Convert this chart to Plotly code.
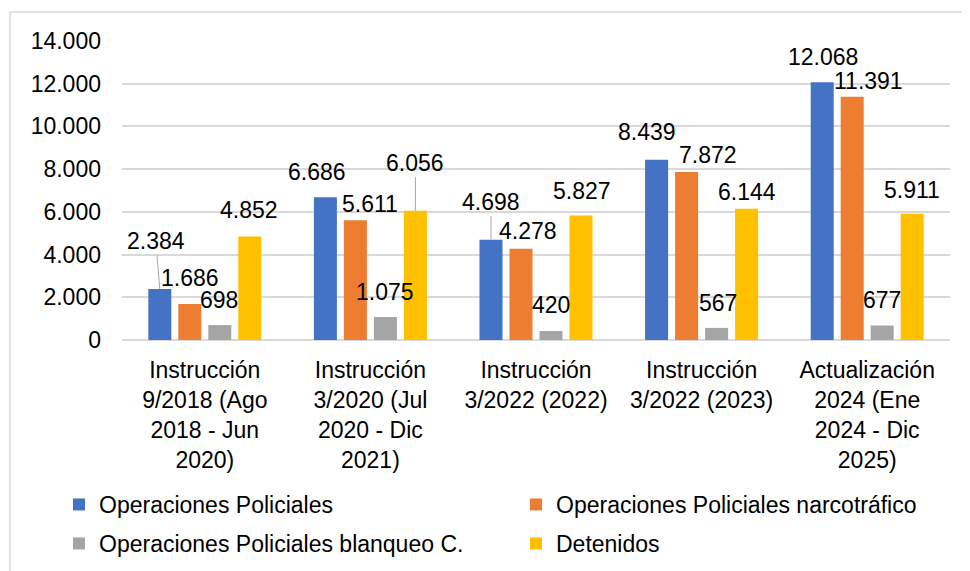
import plotly.graph_objects as go

# ---------------- data ----------------
categories = [
    "Instrucción<br>9/2018 (Ago<br>2018 - Jun<br>2020)",
    "Instrucción<br>3/2020 (Jul<br>2020 - Dic<br>2021)",
    "Instrucción<br>3/2022 (2022)",
    "Instrucción<br>3/2022 (2023)",
    "Actualización<br>2024 (Ene<br>2024 - Dic<br>2025)",
]
series_names = [
    "Operaciones Policiales",
    "Operaciones Policiales narcotráfico",
    "Operaciones Policiales blanqueo C.",
    "Detenidos",
]
op_policiales = [2384, 6686, 4698, 8439, 12068]
op_narcotrafico = [1686, 5611, 4278, 7872, 11391]
op_blanqueo = [698, 1075, 420, 567, 677]
detenidos = [4852, 6056, 5827, 6144, 5911]
y_tick_values = [0, 2000, 4000, 6000, 8000, 10000, 12000, 14000]

# ---------------- style ----------------
colors = ["#4472C4", "#ED7D31", "#A5A5A5", "#FFC000"]
FONT = "Arial, Liberation Sans, Helvetica, sans-serif"
FS = 23
GRID = "#D9D9D9"

# label offsets (px) relative to bar top-centre: (dx, height above)
label_dx = [
    [-4, -8, 0, -10, 1],
    [0, 15, 7, 21, 16],
    [-1, 0, 0, 1, 0],
    [-1, 0, 1, 0, 0],
]
label_dy = [
    [48, 25, 38, 28, 25.5],
    [26, 16, 17.5, 17, 16],
    [25, 25.5, 26, 24.5, 25.5],
    [26, 48, 25, 17, 24],
]
leader = [
    [True, False, True, False, False],
    [False] * 5,
    [False] * 5,
    [False, True, False, False, False],
]
bar_slot_px = 30
bar_offsets = [-1.5 * bar_slot_px, -0.5 * bar_slot_px, 0.5 * bar_slot_px, 1.5 * bar_slot_px]

# page body adds an 8px margin; figure coordinates are screen - 8
PAGE_OFF = 8
W, H = 962, 563
ML, MR, MT, MB = 114, 20, 33, 231
PW = W - ML - MR
PH = H - MT - MB

all_series = [op_policiales, op_narcotrafico, op_blanqueo, detenidos]
legend_rows = ["legend", "legend", "legend2", "legend2"]


def fmt(v):
    return f"{v:,}".replace(",", ".")


def px_x(sx):
    return (sx - PAGE_OFF - ML) / PW


def px_y(sy):
    return (H - MB - (sy - PAGE_OFF)) / PH


fig = go.Figure()
for name, vals, col, lg in zip(series_names, all_series, colors, legend_rows):
    fig.add_trace(go.Bar(
        x=categories, y=vals, name=name, legend=lg,
        marker=dict(color=col, line=dict(width=0)),
    ))

annotations = []
for s, vals in enumerate(all_series):
    for i, v in enumerate(vals):
        if leader[s][i]:
            annotations.append(dict(
                x=categories[i], y=v, xref="x", yref="y",
                text=fmt(v), showarrow=True, arrowhead=0, arrowwidth=1,
                arrowcolor="#A6A6A6", standoff=0,
                ax=label_dx[s][i], ay=-label_dy[s][i],
                xshift=bar_offsets[s],
                font=dict(family=FONT, size=FS, color="#000000"),
            ))
        else:
            annotations.append(dict(
                x=categories[i], y=v, xref="x", yref="y",
                text=fmt(v), showarrow=False,
                xshift=bar_offsets[s] + label_dx[s][i],
                yshift=label_dy[s][i],
                xanchor="center", yanchor="middle",
                font=dict(family=FONT, size=FS, color="#000000"),
            ))

shapes = [
    dict(type="line", xref="paper", yref="paper",
         x0=px_x(10), y0=px_y(12), x1=px_x(980), y1=px_y(12),
         line=dict(color=GRID, width=1.5), layer="below"),
    dict(type="line", xref="paper", yref="paper",
         x0=px_x(10), y0=px_y(12), x1=px_x(10), y1=px_y(590),
         line=dict(color=GRID, width=1.5), layer="below"),
]

legend_common = dict(
    orientation="h",
    xanchor="left", yanchor="top",
    entrywidth=412, entrywidthmode="pixels",
    font=dict(family=FONT, size=FS, color="#000000"),
    bgcolor="rgba(0,0,0,0)",
    traceorder="normal",
)

fig.update_layout(
    width=W, height=H,
    margin=dict(l=ML, r=MR, t=MT, b=MB, autoexpand=False),
    paper_bgcolor="white", plot_bgcolor="white",
    font=dict(family=FONT, size=FS, color="#000000"),
    separators=",.",
    barmode="group",
    bargap=0.2754,
    bargroupgap=0.233,
    showlegend=True,
    legend=dict(x=px_x(59), y=px_y(483), **legend_common),
    legend2=dict(x=px_x(59), y=px_y(522), **legend_common),
    annotations=annotations,
    shapes=shapes,
)
fig.update_yaxes(
    range=[0, 14000],
    tickvals=y_tick_values,
    tickformat=",d",
    showgrid=True, gridcolor=GRID, gridwidth=1.5,
    zeroline=True, zerolinecolor=GRID, zerolinewidth=1.5,
    showline=False, ticks="", automargin=False,
    ticklabelstandoff=20,
    tickfont=dict(family=FONT, size=FS, color="#000000"),
)
fig.update_xaxes(
    showgrid=False, showline=False, ticks="", automargin=False,
    tickfont=dict(family=FONT, size=FS, color="#000000"),
    ticklabelstandoff=14,
)

fig.write_html("out.html")
